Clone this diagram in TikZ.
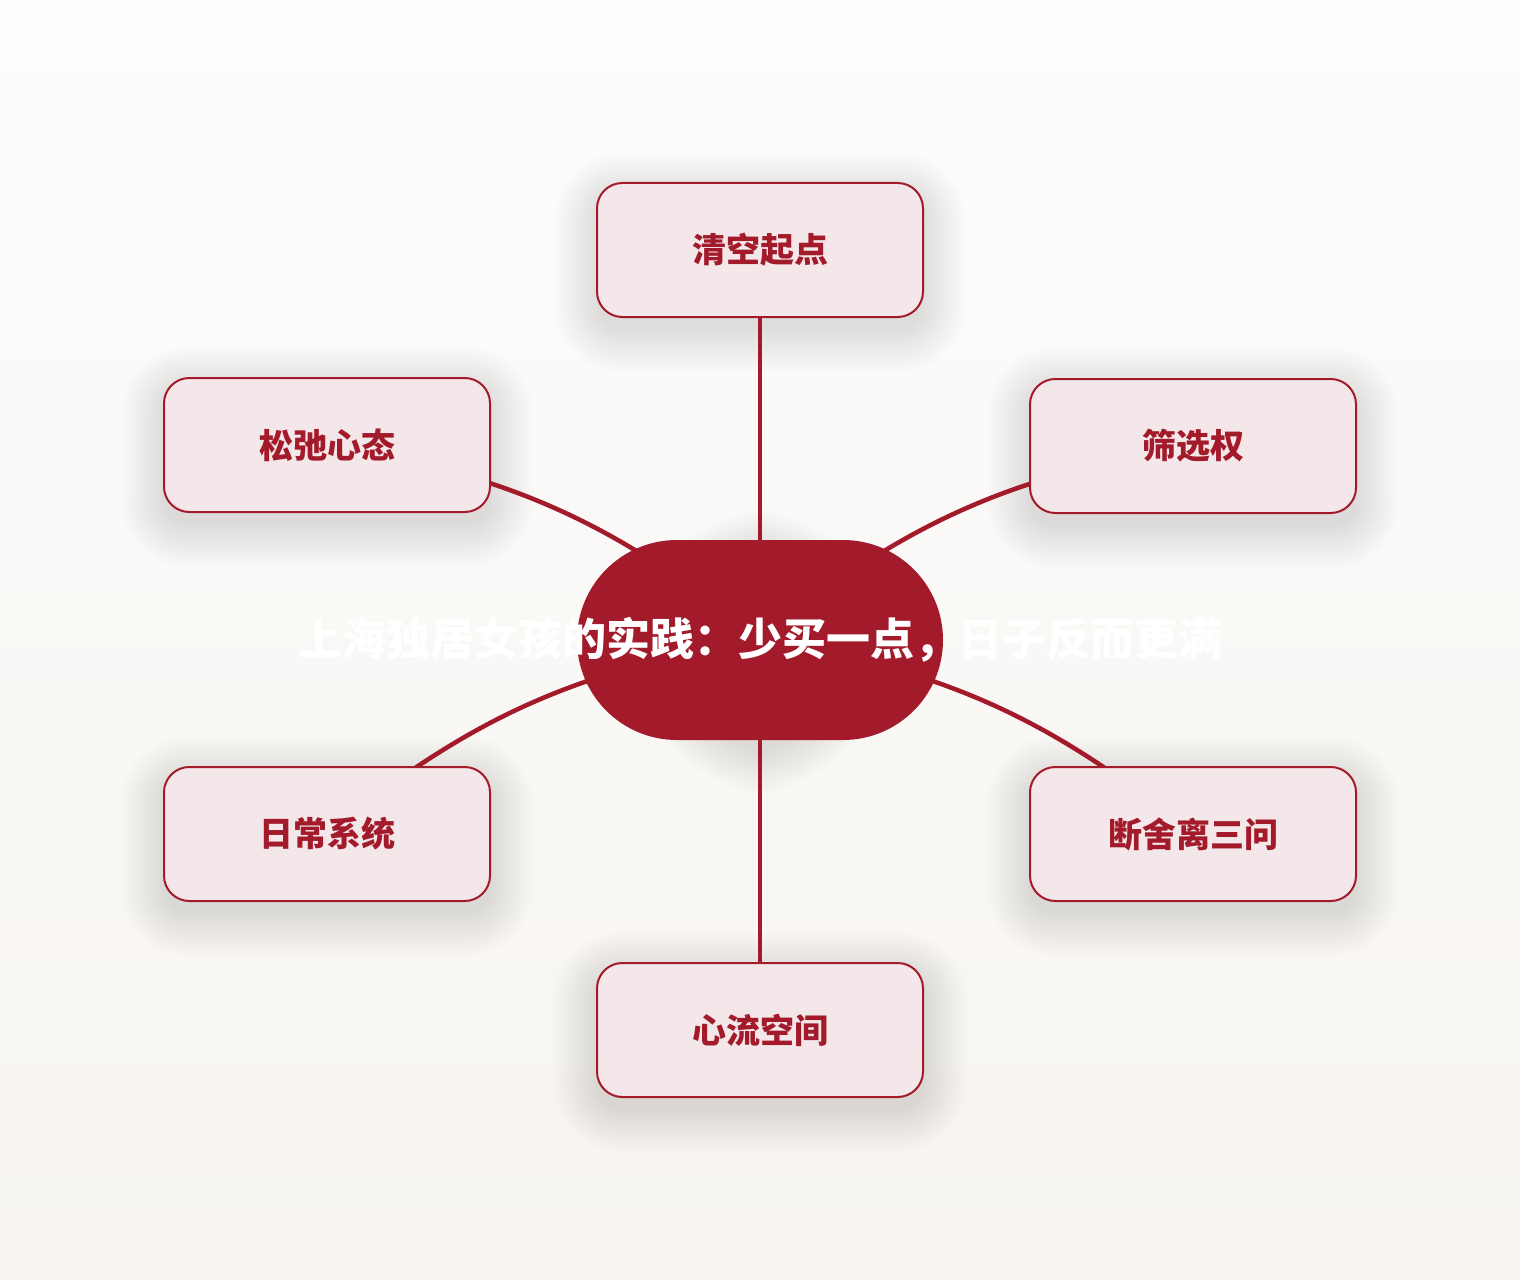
\documentclass[tikz,border=0pt]{standalone}
\usepackage{fontspec}
\newfontfamily\cjk{Noto Sans CJK SC}
\usetikzlibrary{shapes.misc}
\pgfdeclarelayer{paper}
\pgfdeclarelayer{shade}
\pgfdeclarelayer{wires}
\pgfsetlayers{paper,shade,wires,main}
\definecolor{crimson}{HTML}{A31B2B}
\definecolor{boxfill}{HTML}{F4E7EA}
\definecolor{bgtop}{HTML}{FDFDFD}
\definecolor{bgbot}{HTML}{F7F4EF}
\tikzset{
  branch/.style={draw=crimson, line width=1.5pt, fill=boxfill, rounded corners=19pt,
    minimum width=244.5pt, minimum height=100.5pt, inner sep=0pt,
    font=\cjk\bfseries\fontsize{25.5}{30}\selectfont, text=crimson},
  hub/.style={rounded rectangle, fill=crimson, minimum width=274.5pt, minimum height=150pt, inner sep=0pt,
    font=\cjk\bfseries\fontsize{33}{38}\selectfont, text=white},
  link/.style={draw=crimson, line width=3.4pt},
  glowlayer/.style={fill=black, opacity=0.009}
}
% soft shadow behind a named node: #1 name, #2 corner radius in px
\newcommand\softglow[2]{%
  \foreach \e in {0,3,...,42} {
    \pgfmathsetmacro\rr{(#2+\e)*0.75}
    \fill[glowlayer, rounded corners=\rr pt]
      ([shift={(-\e,\e+12)}]#1.south west) rectangle ([shift={(\e,-\e+12)}]#1.north east);
  }}
\begin{document}
\begin{tikzpicture}[x=0.75pt,y=-0.75pt]
\begin{pgfonlayer}{paper}
\shade[top color=bgtop, bottom color=bgbot] (0,0) rectangle (1520,1280);
\end{pgfonlayer}
\useasboundingbox (0,0) rectangle (1520,1280);
\node[hub] (c) at (760,640) {\makebox[0pt]{\raisebox{-2pt}{上海独居女孩的实践：少买一点，日子反而更满}}};
\node[branch] (t) at (760,250) {清空起点};
\node[branch] (lt) at (327,445) {松弛心态};
\node[branch] (rt) at (1193,446) {筛选权};
\node[branch] (lb) at (327,834) {日常系统};
\node[branch] (rb) at (1193,834) {断舍离三问};
\node[branch] (b) at (760,1030) {心流空间};
\begin{pgfonlayer}{shade}
\softglow{c}{99}
\softglow{t}{25}
\softglow{lt}{25}
\softglow{rt}{25}
\softglow{lb}{25}
\softglow{rb}{25}
\softglow{b}{25}
\end{pgfonlayer}
\begin{pgfonlayer}{wires}
\draw[link] (c.center) -- (t.center);
\draw[link] (c.center) -- (b.center);
\draw[link] (c.center) to[bend right=15] (lt.center);
\draw[link] (c.center) to[bend left=15] (rt.center);
\draw[link] (c.center) to[bend right=15] (lb.center);
\draw[link] (c.center) to[bend left=15] (rb.center);
\end{pgfonlayer}
\end{tikzpicture}
\end{document}
